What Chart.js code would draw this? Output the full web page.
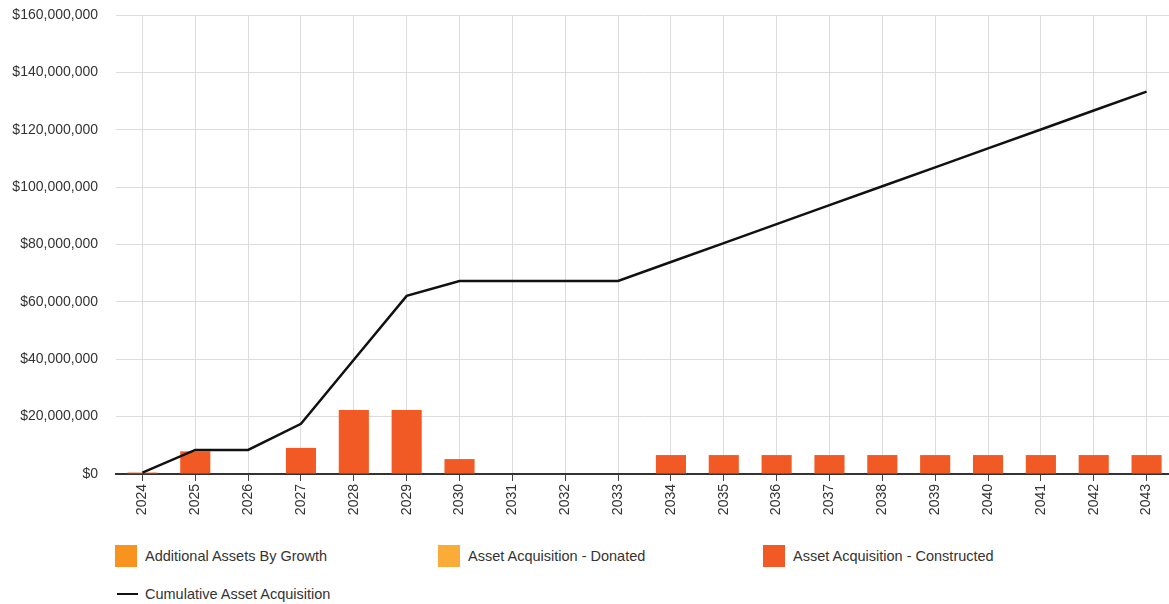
<!DOCTYPE html>
<html>
<head>
<meta charset="utf-8">
<script src="https://cdn.jsdelivr.net/npm/chart.js@4.4.1/dist/chart.umd.min.js"></script>
<style>
    html, body { margin: 0; padding: 0; background: #fff; overflow: hidden; }
    #wrap { position: relative; width: 1169px; height: 604px; overflow: hidden; }
    #grafico { position: absolute; left: 0; top: 0; }
    .leg { position: absolute; font-family: "Liberation Sans", Arial, sans-serif; font-size: 14.5px; color: #333; white-space: nowrap; }
    .leg .box { position: absolute; left: 0; top: 0; width: 22px; height: 22px; }
    .leg .line { position: absolute; left: 2px; top: 10px; width: 21px; height: 2px; background: #111; }
    .leg span { position: absolute; left: 30px; top: 3px; }
</style>
</head>
<body>
<div id="wrap">
    <canvas id="grafico" width="1173" height="524"></canvas>
    <div id="legenda"></div>
</div>
<script>
const anos = ['2024', '2025', '2026', '2027', '2028', '2029', '2030', '2031', '2032', '2033',
              '2034', '2035', '2036', '2037', '2038', '2039', '2040', '2041', '2042', '2043'];

const porCrescimento = [0, 0, 0, 0, 0, 0, 0, 0, 0, 0, 0, 0, 0, 0, 0, 0, 0, 0, 0, 0];
const doados = [0, 0, 0, 0, 0, 0, 0, 0, 0, 0, 0, 0, 0, 0, 0, 0, 0, 0, 0, 0];
const construidos = [500000, 7900000, 0, 9100000, 22300000, 22300000, 5200000, 0, 0, 0,
                     6600000, 6600000, 6600000, 6600000, 6600000, 6600000, 6600000, 6600000, 6600000, 6600000];
const acumulado = [500000, 8400000, 8400000, 17500000, 39800000, 62100000, 67300000, 67300000, 67300000, 67300000,
                   73900000, 80500000, 87100000, 93700000, 100300000, 106900000, 113500000, 120100000, 126700000, 133300000];

const ticksY = [0, 20000000, 40000000, 60000000, 80000000, 100000000, 120000000, 140000000, 160000000];

const corCrescimento = '#f7931e';
const corDoado = '#fbab37';
const corConstruido = '#f15a24';
const corLinha = '#111111';

const fonte = { family: '"Liberation Sans", Arial, sans-serif', size: 14 };

const ctx = document.getElementById('grafico').getContext('2d');
const grafico = new Chart(ctx, {
    type: 'bar',
    data: {
        labels: anos,
        datasets: [
            {
                label: 'Cumulative Asset Acquisition',
                type: 'line',
                data: acumulado,
                borderColor: corLinha,
                borderWidth: 2.5,
                pointRadius: 0,
                tension: 0,
                stack: 'acumulado',
                order: 0
            },
            { label: 'Additional Assets By Growth', data: porCrescimento, backgroundColor: corCrescimento, stack: 'ativos', order: 1 },
            { label: 'Asset Acquisition - Donated', data: doados, backgroundColor: corDoado, stack: 'ativos', order: 1 },
            { label: 'Asset Acquisition - Constructed', data: construidos, backgroundColor: corConstruido, stack: 'ativos', order: 1 }
        ]
    },
    options: {
        responsive: false,
        animation: false,
        devicePixelRatio: 1,
        layout: { padding: { top: 15, left: 0, right: 0, bottom: 0 } },
        datasets: { bar: { categoryPercentage: 1, barPercentage: 0.57 } },
        plugins: { legend: { display: false }, tooltip: { enabled: false } },
        scales: {
            x: {
                stacked: true,
                offset: true,
                grid: { color: '#dcdcdc', offset: false, tickLength: 7, tickColor: '#444' },
                border: { display: true, color: '#333', width: 2 },
                ticks: { color: '#333', font: fonte, minRotation: 90, maxRotation: 90, padding: 3 },
                afterFit: (escala) => { escala.height = 50; }
            },
            y: {
                stacked: true,
                min: 0,
                max: 160000000,
                afterBuildTicks: (escala) => { escala.ticks = ticksY.map(v => ({ value: v })); },
                grid: { color: '#dcdcdc', drawTicks: false },
                border: { display: false },
                ticks: {
                    color: '#333',
                    font: fonte,
                    padding: 18,
                    callback: (v) => '$' + Number(v).toLocaleString('en-US')
                },
                afterFit: (escala) => {
                    escala.width = 116;
                    escala.paddingTop = 0;
                    escala.paddingBottom = 0;
                }
            }
        }
    }
});

// legend laid out as a grid below the chart
const posicoes = [
    { idx: 1, x: 115, y: 545 },
    { idx: 2, x: 438, y: 545 },
    { idx: 3, x: 763, y: 545 },
    { idx: 0, x: 115, y: 583 }
];
const legenda = document.getElementById('legenda');
posicoes.forEach(p => {
    const ds = grafico.data.datasets[p.idx];
    const item = document.createElement('div');
    item.className = 'leg';
    item.style.left = p.x + 'px';
    item.style.top = p.y + 'px';
    const marca = document.createElement('div');
    if (ds.type === 'line') {
        marca.className = 'line';
        marca.style.background = ds.borderColor;
    } else {
        marca.className = 'box';
        marca.style.background = ds.backgroundColor;
    }
    const texto = document.createElement('span');
    texto.innerText = ds.label;
    item.appendChild(marca);
    item.appendChild(texto);
    legenda.appendChild(item);
});
</script>
</body>
</html>
